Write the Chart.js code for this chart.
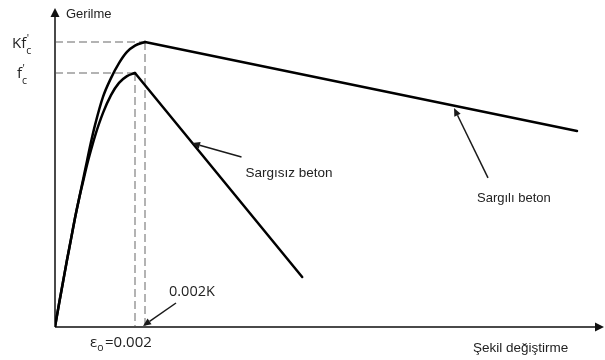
<!DOCTYPE html>
<html>
<head>
<meta charset="utf-8">
<script src="https://cdn.jsdelivr.net/npm/chart.js@4.4.1/dist/chart.umd.min.js"></script>
<style>
  html, body { margin: 0; padding: 0; background: #fff; }
  #wrap { width: 605px; height: 360px; position: relative; }
</style>
</head>
<body>
<div id="wrap"><canvas id="c"></canvas></div>
<script>
// ---- Data (strain, stress normalised to f'c) ----
const EPS_O = 0.002;          // strain at unconfined peak
const K = 1.122;              // confinement factor
const EPS_CC = 0.00225;       // strain at confined peak (0.002K)
const X_MAX = 0.013625;
const Y_MAX = 1.256;

const unconfAscStrain = [0, 0.0001, 0.0002, 0.0003, 0.0004, 0.0005, 0.0006, 0.0007, 0.0008, 0.0009, 0.001, 0.0012, 0.0014, 0.0016, 0.0018, 0.002];
const unconfAscStress = [0, 0.0906, 0.177, 0.264, 0.346, 0.429, 0.504, 0.571, 0.638, 0.697, 0.752, 0.843, 0.913, 0.961, 0.988, 1.0];
const unconfDescStrain = [0.002, 0.00618];
const unconfDescStress = [1.0, 0.197];

const confAscStrain = [0, 0.0001, 0.0002, 0.0003, 0.0004, 0.0005, 0.0006, 0.0007, 0.0008, 0.0009, 0.001, 0.0012, 0.0014, 0.0016, 0.0018, 0.002, 0.00225];
const confAscStress = [0, 0.0906, 0.177, 0.264, 0.346, 0.429, 0.504, 0.579, 0.654, 0.728, 0.795, 0.906, 0.980, 1.039, 1.083, 1.108, 1.122];
const confDescStrain = [0.00225, 0.01305];
const confDescStress = [1.122, 0.772];

// ---- Text labels (data-space anchors, left/baseline) ----
const textLabels = [
  { text: "Gerilme",          x: 0.000275,  y: 1.2185, font: "13px 'Liberation Sans', Arial, sans-serif" },
  { text: "Sargısız beton",   x: 0.0047625, y: 0.5906, font: "13.5px 'Liberation Sans', Arial, sans-serif" },
  { text: "Sargılı beton",    x: 0.01055,   y: 0.4941, font: "13px 'Liberation Sans', Arial, sans-serif" },
  { text: "Şekil değiştirme", x: 0.01045,   y: -0.0965, font: "13.5px 'Liberation Sans', Arial, sans-serif" },
  { text: "0.002K",           x: 0.00285,   y: 0.122,  font: "14.5px 'Open Sans', sans-serif" }
];

// Arrows: [tipX, tipY, tailX, tailY] in data space
const arrowLabels = [
  [0.003425, 0.724, 0.0046625, 0.669],
  [0.009975, 0.862, 0.010825, 0.587],
  [0.0022, 0.004, 0.003025, 0.0945]
];

function toXY(xs, ys) { return xs.map((x, i) => ({ x: x, y: ys[i] })); }

const annotPlugin = {
  id: 'annot',
  beforeDatasetsDraw(chart) {
    const ctx = chart.ctx, xs = chart.scales.x, ys = chart.scales.y, ca = chart.chartArea;
    const px = v => xs.getPixelForValue(v), py = v => ys.getPixelForValue(v);
    ctx.save();
    // dashed guides
    ctx.strokeStyle = '#9a9a9a';
    ctx.lineWidth = 1.5;
    ctx.setLineDash([8, 4]);
    [[EPS_O, 1.0], [EPS_CC, K]].forEach(([ex, sy]) => {
      ctx.beginPath();
      ctx.moveTo(ca.left, py(sy)); ctx.lineTo(px(ex), py(sy));
      ctx.moveTo(px(ex), py(sy)); ctx.lineTo(px(ex), ca.bottom);
      ctx.stroke();
    });
    ctx.setLineDash([]);
    // axes
    ctx.strokeStyle = '#4a4a4a';
    ctx.fillStyle = '#111';
    ctx.lineWidth = 2;
    ctx.beginPath();
    ctx.moveTo(ca.left, ca.bottom); ctx.lineTo(ca.left, ca.top + 6);
    ctx.moveTo(ca.left, ca.bottom); ctx.lineTo(ca.right - 4, ca.bottom);
    ctx.stroke();
    ctx.beginPath();
    ctx.moveTo(ca.left, ca.top); ctx.lineTo(ca.left - 4.5, ca.top + 9); ctx.lineTo(ca.left + 4.5, ca.top + 9); ctx.closePath();
    ctx.fill();
    ctx.beginPath();
    ctx.moveTo(ca.right + 4, ca.bottom); ctx.lineTo(ca.right - 5, ca.bottom - 4.5); ctx.lineTo(ca.right - 5, ca.bottom + 4.5); ctx.closePath();
    ctx.fill();
    ctx.restore();
  },
  afterDatasetsDraw(chart) {
    const ctx = chart.ctx, xs = chart.scales.x, ys = chart.scales.y;
    const px = v => xs.getPixelForValue(v), py = v => ys.getPixelForValue(v);
    ctx.save();
    // arrows
    ctx.strokeStyle = '#1a1a1a';
    ctx.fillStyle = '#1a1a1a';
    ctx.lineWidth = 1.5;
    arrowLabels.forEach(([tx, ty, sx, sy]) => {
      const x1 = px(tx), y1 = py(ty), x0 = px(sx), y0 = py(sy);
      const a = Math.atan2(y1 - y0, x1 - x0);
      const L = 8, W = 3.5;
      const bx = x1 - L * Math.cos(a), by = y1 - L * Math.sin(a);
      ctx.beginPath(); ctx.moveTo(x0, y0); ctx.lineTo(bx, by); ctx.stroke();
      ctx.beginPath();
      ctx.moveTo(x1, y1);
      ctx.lineTo(bx + W * Math.sin(a), by - W * Math.cos(a));
      ctx.lineTo(bx - W * Math.sin(a), by + W * Math.cos(a));
      ctx.closePath(); ctx.fill();
    });
    // plain texts
    ctx.fillStyle = '#222';
    ctx.textAlign = 'left';
    ctx.textBaseline = 'alphabetic';
    textLabels.forEach(t => { ctx.font = t.font; ctx.fillText(t.text, px(t.x), py(t.y)); });
    // axis symbols with sub/superscripts
    const main = "15px 'Open Sans', sans-serif", small = "10.5px 'Open Sans', sans-serif";
    const ca = chart.chartArea;
    function symbol(mainTxt, xLeft, base) {
      ctx.font = main; ctx.fillText(mainTxt, xLeft, base);
      const w = ctx.measureText(mainTxt).width;
      ctx.font = small;
      ctx.fillText("'", xLeft + w + 0.5, base - 6);
      ctx.fillText("c", xLeft + w, base + 5.5);
    }
    symbol("Kf", ca.left - 43, py(K) + 6);
    symbol("f", ca.left - 38, py(1.0) + 5);
    // epsilon_o = 0.002
    const ex = px(EPS_O) - 45, eb = ca.bottom + 20;
    ctx.font = main; ctx.fillText("ε", ex, eb);
    let w = ctx.measureText("ε").width;
    ctx.font = small; ctx.fillText("o", ex + w, eb + 4);
    w += ctx.measureText("o").width + 1.5;
    ctx.font = main; ctx.fillText("=0.002", ex + w, eb);
    ctx.restore();
  }
};

const lineStyle = { borderColor: '#000', borderWidth: 2.5, pointRadius: 0, fill: false, borderCapStyle: 'round', borderJoinStyle: 'round' };

new Chart(document.getElementById('c'), {
  type: 'line',
  data: {
    datasets: [
      Object.assign({ label: 'Sargısız beton (asc)', data: toXY(unconfAscStrain, unconfAscStress), cubicInterpolationMode: 'monotone' }, lineStyle),
      Object.assign({ label: 'Sargısız beton', data: toXY(unconfDescStrain, unconfDescStress), tension: 0 }, lineStyle),
      Object.assign({ label: 'Sargılı beton (asc)', data: toXY(confAscStrain, confAscStress), cubicInterpolationMode: 'monotone' }, lineStyle),
      Object.assign({ label: 'Sargılı beton', data: toXY(confDescStrain, confDescStress), tension: 0 }, lineStyle)
    ]
  },
  options: {
    responsive: true,
    maintainAspectRatio: false,
    animation: false,
    layout: { padding: { left: 55, top: 8, right: 5, bottom: 33 } },
    scales: {
      x: { type: 'linear', min: 0, max: X_MAX, display: false },
      y: { type: 'linear', min: 0, max: Y_MAX, display: false }
    },
    plugins: { legend: { display: false }, tooltip: { enabled: false } },
    events: []
  },
  plugins: [annotPlugin]
});
</script>
</body>
</html>
